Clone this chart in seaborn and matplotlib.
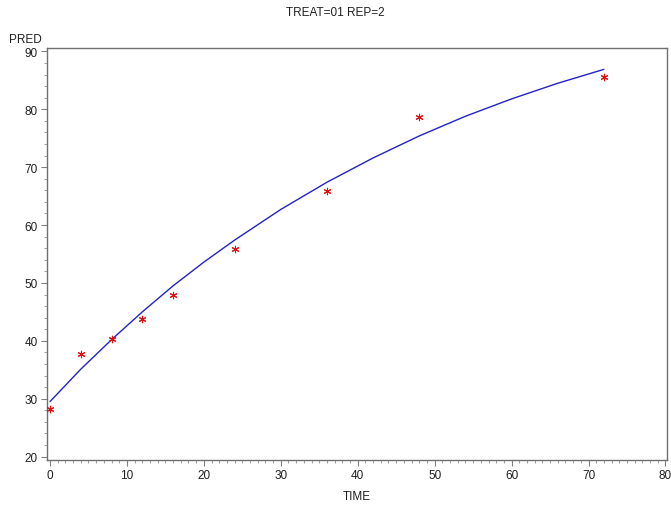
import matplotlib
matplotlib.use("Agg")
import matplotlib.pyplot as plt
from matplotlib.ticker import MultipleLocator
import seaborn as sns
import pandas as pd

# observed data (red asterisks)
obs_time = [0, 4, 8, 12, 16, 24, 36, 48, 72]
obs_value = [28.3, 37.8, 40.3, 43.8, 47.9, 55.9, 65.9, 78.6, 85.5]

# predicted curve (blue line)
pred_time = [0, 4, 8, 12, 16, 20, 24, 30, 36, 42, 48, 54, 60, 66, 72]
pred_value = [29.5, 35.1, 40.2, 45.0, 49.5, 53.6, 57.4, 62.7, 67.4, 71.6, 75.4, 78.8, 81.8, 84.5, 86.9]

title = "TREAT=01 REP=2"
x_label = "TIME"
y_label = "PRED"

sns.set_style("white")
plt.rcParams['font.family'] = ['Liberation Sans', 'DejaVu Sans']

fig = plt.figure(figsize=(6.71, 5.10), dpi=100)
ax = fig.add_axes([0.0696, 0.096, 0.9244, 0.808])

df_pred = pd.DataFrame({"TIME": pred_time, "PRED": pred_value})
df_obs = pd.DataFrame({"TIME": obs_time, "PRED": obs_value})

sns.lineplot(data=df_pred, x="TIME", y="PRED", ax=ax, color="#2222cc", linewidth=1.0)
sns.scatterplot(data=df_obs, x="TIME", y="PRED", ax=ax, marker=(6, 2, 0), s=22,
                color="#dd1111", linewidth=0.8, edgecolor="#dd1111", zorder=3)

ax.set_xlim(-0.43, 80.2)
ax.set_ylim(19.4, 90.6)
ax.xaxis.set_major_locator(MultipleLocator(10))
ax.xaxis.set_minor_locator(MultipleLocator(1))
ax.yaxis.set_major_locator(MultipleLocator(10))
ax.yaxis.set_minor_locator(MultipleLocator(2))
ax.tick_params(axis="both", which="major", direction="out", length=4.5, width=0.8,
               color="#808080", labelsize=8.5, labelcolor="#202020", pad=2)
ax.tick_params(axis="both", which="minor", direction="out", length=2.5, width=0.6,
               color="#909090")
ax.tick_params(axis="both", which="both", bottom=True, left=True)
for sp in ax.spines.values():
    sp.set_color("#707070")
    sp.set_linewidth(1.0)

ax.set_xlabel("")
ax.set_ylabel("")
fig.text(357 / 671, 1 - 497 / 510, x_label, ha="center", va="center", fontsize=8.5, color="#202020")
fig.text(25 / 671, 1 - 40 / 510, y_label, ha="center", va="center", fontsize=8.5, color="#202020")
fig.text(335 / 671, 1 - 13 / 510, title, ha="center", va="center", fontsize=8.5, color="#202020")

fig.savefig("out.png", dpi=100)
